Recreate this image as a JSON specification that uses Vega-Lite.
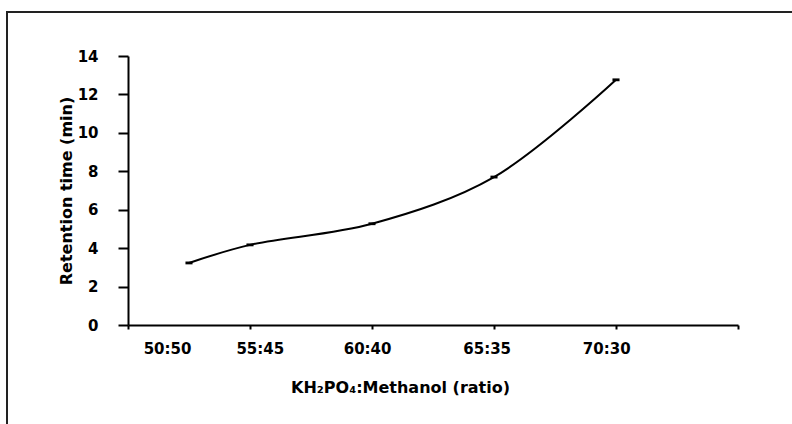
{
  "$schema": "https://vega.github.io/schema/vega-lite/v6.json",
  "autosize": "none",
  "padding": {"left": 7, "top": 12, "right": 0, "bottom": 0},
  "width": 800,
  "height": 420,
  "background": "white",
  "config": {
    "view": {"stroke": "#222222", "strokeWidth": 2},
    "font": "DejaVu Sans",
    "axis": {"grid": false, "domainColor": "black", "tickColor": "black", "labelColor": "black", "titleColor": "black", "labelFont": "DejaVu Sans", "titleFont": "DejaVu Sans", "labelFontWeight": "bold", "titleFontWeight": "bold"}
  },
  "data": {
    "values": [
      {"ratio": "50:50", "x": 0.5, "rt": 3.23},
      {"ratio": "55:45", "x": 1, "rt": 4.17},
      {"ratio": "60:40", "x": 2, "rt": 5.27},
      {"ratio": "65:35", "x": 3, "rt": 7.7},
      {"ratio": "70:30", "x": 4, "rt": 12.76}
    ]
  },
  "encoding": {
    "x": {"field": "x", "type": "quantitative", "scale": {"domain": [0, 5], "range": [121, 731], "nice": false, "zero": false}},
    "y": {"field": "rt", "type": "quantitative", "scale": {"domain": [0, 14], "range": [313, 44], "nice": false}}
  },
  "layer": [
    {
      "mark": {"type": "line", "interpolate": "catmull-rom", "color": "black", "strokeWidth": 2},
      "encoding": {
        "x": {"field": "x", "type": "quantitative", "axis": {
          "orient": "bottom", "offset": -107, "values": [0.32, 1.08, 1.96, 2.94, 3.92],
          "labelExpr": "datum.value < 0.5 ? '50:50' : datum.value < 1.5 ? '55:45' : datum.value < 2.5 ? '60:40' : datum.value < 3.5 ? '65:35' : '70:30'",
          "ticks": false, "domain": false, "labelFontSize": 15, "labelPadding": 16,
          "title": "KH₂PO₄:Methanol (ratio)", "titleFontSize": 16, "titlePadding": 23, "titleX": 393
        }},
        "y": {"field": "rt", "type": "quantitative", "axis": {
          "orient": "left", "offset": -121, "values": [0, 2, 4, 6, 8, 10, 12, 14],
          "tickSize": 10, "tickWidth": 2, "domainWidth": 2, "labelFontSize": 15, "labelPadding": 20,
          "title": "Retention time (min)", "titleFontSize": 16, "titlePadding": 3
        }}
      }
    },
    {
      "mark": {"type": "point", "shape": "M-1,-0.4H1V0.4H-1Z", "filled": true, "color": "black", "opacity": 1, "size": 50},
      "encoding": {
        "x": {"field": "x", "type": "quantitative", "axis": {
          "orient": "bottom", "offset": -107, "values": [0, 1, 2, 3, 4, 5],
          "labels": false, "tickSize": 4, "tickWidth": 2, "domainWidth": 2, "title": null
        }}
      }
    }
  ],
  "resolve": {"axis": {"x": "independent"}}
}
